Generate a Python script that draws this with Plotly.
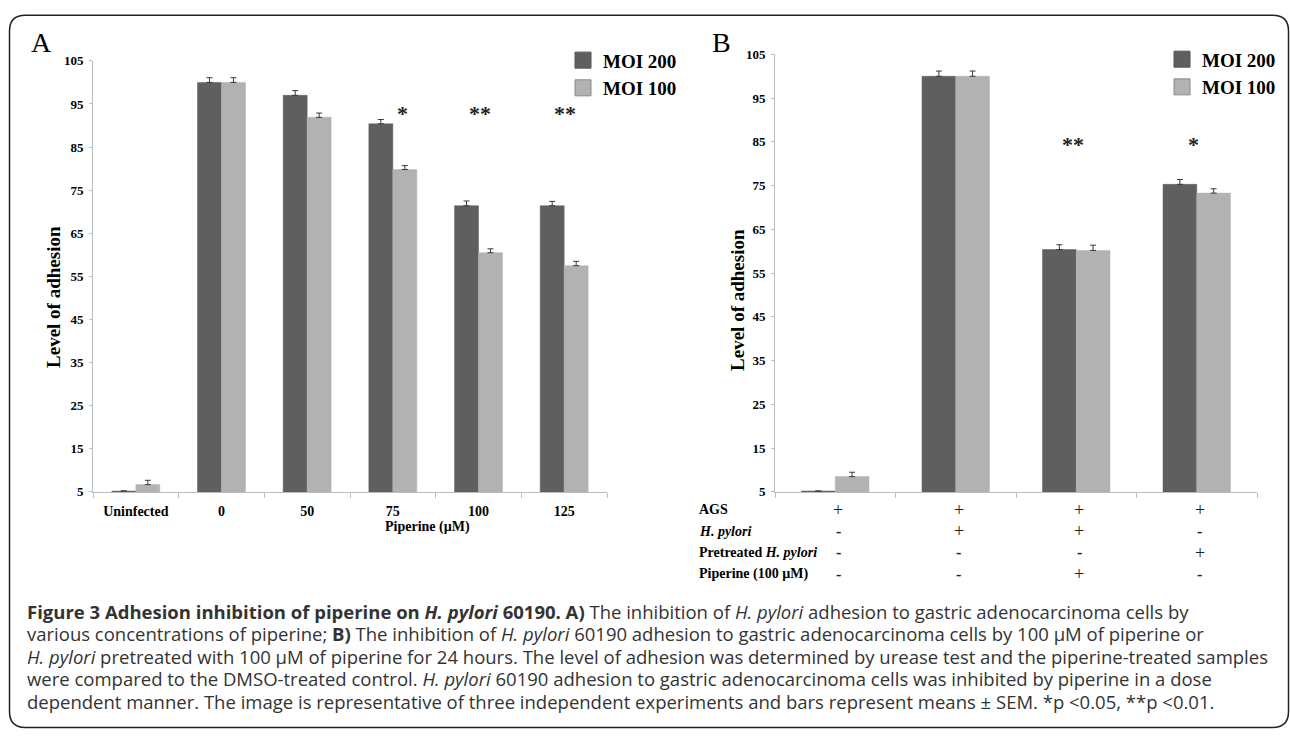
import plotly.graph_objects as go

W, H = 1290, 737


def fx(p):
    return p / W


def fy(p):
    return 1 - p / H


SERIF = "Liberation Serif, Times New Roman, serif"
SANS = "Open Sans, Noto Sans, sans-serif"
DARK = "#5f5f5f"
LIGHT = "#b2b2b2"

# ---------------- Panel A data ----------------
a_categories = ["Uninfected", "0", "50", "75", "100", "125"]
a_moi200 = [5.2, 100.0, 97.0, 90.4, 71.4, 71.4]
a_moi200_err = [0.0, 1.1, 1.1, 1.0, 1.1, 1.0]
a_moi100 = [6.7, 100.0, 91.9, 79.8, 60.5, 57.5]
a_moi100_err = [1.0, 1.1, 1.0, 0.9, 0.9, 1.0]
a_sig = ["", "", "", "*", "**", "**"]

# ---------------- Panel B data ----------------
b_categories = ["AGS", "AGS + H. pylori", "AGS + H. pylori + Piperine", "AGS + Pretreated H. pylori"]
b_moi200 = [5.2, 100.0, 60.4, 75.3]
b_moi200_err = [0.0, 1.2, 1.1, 1.1]
b_moi100 = [8.5, 100.0, 60.2, 73.3]
b_moi100_err = [1.0, 1.2, 1.2, 1.0]
b_sig = ["", "", "**", "*"]

b_rows = ["AGS", "<i>H. pylori</i>", "Pretreated <i>H. pylori</i>", "Piperine (100 µM)"]
b_table = [
    ["+", "+", "+", "+"],
    ["-", "+", "+", "-"],
    ["-", "-", "-", "+"],
    ["-", "-", "+", "-"],
]

y_ticks = list(range(5, 106, 10))

caption_lines = [
    "<b>Figure 3 Adhesion inhibition of piperine on <i>H. pylori</i> 60190. A)</b> The inhibition of <i>H. pylori</i> adhesion to gastric adenocarcinoma cells by",
    "various concentrations of piperine; <b>B)</b> The inhibition of <i>H. pylori</i> 60190 adhesion to gastric adenocarcinoma cells by 100 µM of piperine or",
    "<i>H. pylori</i> pretreated with 100 µM of piperine for 24 hours. The level of adhesion was determined by urease test and the piperine-treated samples",
    "were compared to the DMSO-treated control. <i>H. pylori</i> 60190 adhesion to gastric adenocarcinoma cells was inhibited by piperine in a dose",
    "dependent manner. The image is representative of three independent experiments and bars represent means ± SEM. *p &lt;0.05, **p &lt;0.01.",
]

fig = go.Figure()


def add_bars(cats, v200, e200, v100, e100, xa, ya):
    for vals, errs, col, name in ((v200, e200, DARK, "MOI 200"), (v100, e100, LIGHT, "MOI 100")):
        fig.add_trace(go.Bar(
            x=cats, y=vals, name=name, showlegend=False, legendgroup=name,
            marker=dict(color=col, line=dict(color=col, width=0.5)),
            error_y=dict(type="data", symmetric=False, array=errs, arrayminus=[0] * len(errs),
                         color="#3a3a3a", thickness=1, width=3),
            xaxis=xa, yaxis=ya,
        ))


add_bars(a_categories, a_moi200, a_moi200_err, a_moi100, a_moi100_err, "x", "y")
add_bars(b_categories, b_moi200, b_moi200_err, b_moi100, b_moi100_err, "x2", "y2")

# legend entries (one legend per panel)
for lg, xa, ya in (("legend", "x", "y"), ("legend2", "x2", "y2")):
    for col, lc, name in ((DARK, "#555555", "MOI 200"), (LIGHT, "#8a8a8a", "MOI 100")):
        fig.add_trace(go.Scatter(
            x=[None], y=[None], mode="markers", name="<b>%s</b>" % name, legend=lg,
            legendgroup=lg + name,
            marker=dict(symbol="square", size=16, color=col, line=dict(color=lc, width=1)),
            xaxis=xa, yaxis=ya,
        ))

axis_common = dict(
    showline=True, linecolor="#bdbdbd", linewidth=1, showgrid=False, zeroline=False,
    ticks="outside", tickcolor="#bdbdbd", fixedrange=True,
)

fig.update_layout(
    width=W, height=H, margin=dict(l=0, r=0, t=0, b=0),
    paper_bgcolor="white", plot_bgcolor="white",
    barmode="group", bargap=0.44, bargroupgap=0,
    xaxis=dict(**axis_common, domain=[fx(93), fx(607)], range=[-0.5, 5.5], type="category",
               tickson="boundaries", ticklen=5, ticklabelstandoff=6,
               tickfont=dict(family=SERIF, size=14, color="black", weight="bold"), anchor="y"),
    yaxis=dict(**axis_common, domain=[fy(495), fy(55)], range=[5, 105], tickvals=y_ticks,
               ticklen=3, ticklabelstandoff=3,
               tickfont=dict(family=SERIF, size=13, color="black", weight="bold"), anchor="x"),
    xaxis2=dict(**axis_common, domain=[fx(775), fx(1257)], range=[-0.5, 3.5], type="category",
                tickson="boundaries", ticklen=5, showticklabels=False, anchor="y2"),
    yaxis2=dict(**axis_common, domain=[fy(495), fy(48.4)], range=[5, 105], tickvals=y_ticks,
                ticklen=3, ticklabelstandoff=3,
                tickfont=dict(family=SERIF, size=13, color="black", weight="bold"), anchor="x2"),
    legend=dict(x=fx(563), y=fy(35), xanchor="left", yanchor="top", bgcolor="rgba(0,0,0,0)",
                font=dict(family=SERIF, size=19, color="black"), itemsizing="trace",
                tracegroupgap=0),
    legend2=dict(x=fx(1162), y=fy(34), xanchor="left", yanchor="top", bgcolor="rgba(0,0,0,0)",
                 font=dict(family=SERIF, size=19, color="black"), itemsizing="trace",
                 tracegroupgap=0),
    showlegend=True,
)

ann = []
# panel letters
ann.append(dict(text="A", x=fx(29), y=fy(36), xanchor="left", yanchor="middle"))
ann.append(dict(text="B", x=fx(710), y=fy(36), xanchor="left", yanchor="middle"))
for a in ann:
    a.update(xref="paper", yref="paper", showarrow=False, font=dict(family=SERIF, size=28, color="black"))

# y titles
for xp, yp in ((54, 296), (738, 299)):
    ann.append(dict(text="<b>Level of adhesion</b>", x=fx(xp), y=fy(yp), xref="paper", yref="paper",
                    textangle=-90, showarrow=False, xanchor="center", yanchor="middle",
                    font=dict(family=SERIF, size=19, color="black")))

# x title panel A
ann.append(dict(text="<b>Piperine (µM)</b>", x=fx(427), y=fy(531), xref="paper", yref="paper",
                showarrow=False, xanchor="center", yanchor="middle",
                font=dict(family=SERIF, size=14, color="black")))

# significance stars (category index used as x position)
for i, s in enumerate(a_sig):
    if s:
        ann.append(dict(text="<b>%s</b>" % s, x=i, y=92.8, xref="x", yref="y", showarrow=False,
                        xshift=10 if s == "*" else 1, xanchor="center", yanchor="middle",
                        font=dict(family=SERIF, size=22, color="#222222")))
for i, s in enumerate(b_sig):
    if s:
        ann.append(dict(text="<b>%s</b>" % s, x=i, y=84.5, xref="x2", yref="y2", showarrow=False,
                        xshift=-3, xanchor="center", yanchor="middle",
                        font=dict(family=SERIF, size=22, color="#222222")))

# condition table under panel B
row_y = [513, 535, 557, 579]
for lab, vals, ry in zip(b_rows, b_table, row_y):
    ann.append(dict(text="<b>%s</b>" % lab, x=fx(697), y=fy(ry), xref="paper", yref="paper",
                    showarrow=False, xanchor="left", yanchor="middle",
                    font=dict(family=SERIF, size=14, color="black")))
    for i, v in enumerate(vals):
        ann.append(dict(text=v if v == "+" else "<b>-</b>", x=i, y=fy(ry), xref="x2", yref="paper",
                        showarrow=False, xanchor="center", yanchor="middle", xshift=3,
                        font=dict(family=SERIF, size=18 if v == "+" else 16, color="#222222")))

# caption (one multi-line text block; base size sets the line spacing)
caption = "<br>".join('<span style="font-size:18.5px">%s</span>' % ln for ln in caption_lines)
ann.append(dict(text=caption, x=fx(25), y=fy(602), xref="paper", yref="paper", showarrow=False,
                xanchor="left", yanchor="top", align="left",
                font=dict(family=SANS, size=17.3, color="#333333")))

fig.update_layout(annotations=ann)

# rounded frame
l, t, r, b, rad = 9.5, 8.5, 1288.5, 735.5, 16
path = (f"M {fx(l + rad)},{fy(t)} L {fx(r - rad)},{fy(t)} Q {fx(r)},{fy(t)} {fx(r)},{fy(t + rad)} "
        f"L {fx(r)},{fy(b - rad)} Q {fx(r)},{fy(b)} {fx(r - rad)},{fy(b)} "
        f"L {fx(l + rad)},{fy(b)} Q {fx(l)},{fy(b)} {fx(l)},{fy(b - rad)} "
        f"L {fx(l)},{fy(t + rad)} Q {fx(l)},{fy(t)} {fx(l + rad)},{fy(t)} Z")
fig.add_shape(type="path", path=path, xref="paper", yref="paper",
              line=dict(color="#222222", width=1.5), fillcolor="rgba(0,0,0,0)", layer="above")

fig.write_html("out.html", config={"displayModeBar": False},
               post_script="document.body.style.margin='0';document.body.style.overflow='hidden';")
